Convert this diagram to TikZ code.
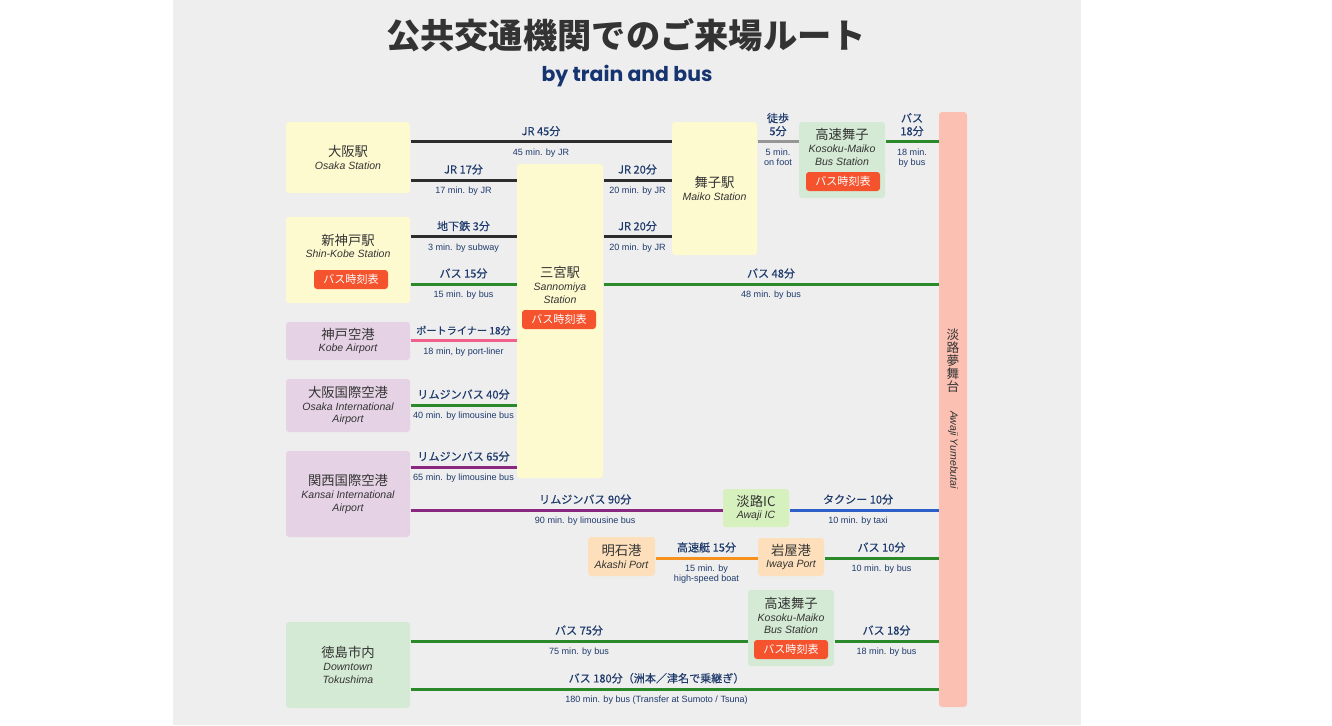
\documentclass[tikz,border=0pt]{standalone}
\usepackage{fontspec}
\setmainfont{Liberation Sans}
\newfontfamily\jp{Noto Sans CJK JP}
\newfontfamily\jpm[FakeBold=0.2]{Noto Sans CJK JP}
\newfontfamily\ttl{Poppins}

\definecolor{bggray}{RGB}{238,238,238}
\definecolor{boxyel}{RGB}{254,250,208}
\definecolor{boxlav}{RGB}{229,211,229}
\definecolor{boxgrn}{RGB}{212,234,212}
\definecolor{boxlime}{RGB}{214,241,190}
\definecolor{boxpch}{RGB}{253,224,187}
\definecolor{barpink}{RGB}{251,192,178}
\definecolor{btnred}{RGB}{245,83,45}
\definecolor{navy}{RGB}{30,58,108}
\definecolor{subnavy}{RGB}{22,52,112}
\definecolor{txtdark}{RGB}{51,51,51}
\definecolor{lnblack}{RGB}{45,45,45}
\definecolor{lngray}{RGB}{150,150,150}
\definecolor{lngreen}{RGB}{42,138,42}
\definecolor{lnpink}{RGB}{240,96,138}
\definecolor{lnpurple}{RGB}{138,40,128}
\definecolor{lnblue}{RGB}{45,95,200}
\definecolor{lnorange}{RGB}{246,145,30}

\newcommand{\nm}[1]{{\jp\fontsize{10}{10.5}\selectfont #1}}
\newcommand{\en}[1]{{\itshape\fontsize{7.9}{9.5}\selectfont #1}}

\tikzset{every picture/.style={line width=0.75pt}}
\tikzset{
  box/.style={rounded corners=2.25pt, inner sep=0pt, align=center, text=txtdark, font=\fontsize{7.9}{9.5}\selectfont},
  ybox/.style={box, fill=boxyel},
  lbox/.style={box, fill=boxlav},
  gbox/.style={box, fill=boxgrn},
  ibox/.style={box, fill=boxlime},
  pbox/.style={box, fill=boxpch},
  boxtxt/.style={inner sep=0pt, align=center, text=txtdark, font=\fontsize{7.9}{9.5}\selectfont},
  btn/.style={fill=btnred, text=white, rounded corners=2.25pt, minimum width=55.5pt, minimum height=14.25pt, inner sep=0pt, font=\jp\fontsize{8.3}{9}\selectfont},
  toplbl/.style={anchor=south, inner xsep=0pt, inner ysep=3pt, align=center, text=navy, font=\jpm\fontsize{8.3}{9.75}\selectfont},
  botlbl/.style={anchor=north, inner xsep=0pt, inner ysep=4pt, align=center, text=navy, font=\fontsize{6.8}{7.5}\selectfont},
  ln/.style={line width=2.25pt},
  jr/.style={ln, draw=lnblack},
  walk/.style={ln, draw=lngray},
  bus/.style={ln, draw=lngreen},
  portl/.style={ln, draw=lnpink},
  limo/.style={ln, draw=lnpurple},
  taxi/.style={ln, draw=lnblue},
  boat/.style={ln, draw=lnorange}
}

\begin{document}
\begin{tikzpicture}[x=0.75pt,y=0.75pt,yscale=-1,xscale=1]
\useasboundingbox (0,0) rectangle (1332,725);
\fill[bggray] (173,0) rectangle (1081,725);

% Title
\node[font=\jp\bfseries\fontsize{25.7}{28}\selectfont, text=txtdark] (title) at (626,35) {公共交通機関でのご来場ルート};
\node[font=\ttl\bfseries\fontsize{15.3}{17}\selectfont, text=subnavy] (subttl) at (627,76) {by train and bus};

% Stations
\node[ybox, minimum width=93pt, minimum height=53.25pt] (osaka) at (348,157.5) {\nm{大阪駅}\\\en{Osaka Station}};
\node[ybox, minimum width=93pt, minimum height=64.5pt] (shinkobe) at (348,260) {};
\node[boxtxt] (shinkobetxt) at (348,246) {\nm{新神戸駅}\\\en{Shin-Kobe Station}};
\node[btn] (shinkobebtn) at (351,279.5) {バス時刻表};
\node[ybox, minimum width=64.5pt, minimum height=235.5pt] (sannomiya) at (560,321) {};
\node[boxtxt] (sannomiyatxt) at (560,285) {\nm{三宮駅}\\\en{Sannomiya}\\\en{Station}};
\node[btn] (sannomiyabtn) at (559,319.5) {バス時刻表};
\node[ybox, minimum width=63.75pt, minimum height=99.75pt] (maiko) at (714.5,188.5) {\nm{舞子駅}\\\en{Maiko Station}};
\node[gbox, minimum width=64.5pt, minimum height=57pt] (kmaikoa) at (842,160) {};
\node[boxtxt] (kmaikoatxt) at (842,147) {\nm{高速舞子}\\\en{Kosoku-Maiko}\\\en{Bus Station}};
\node[btn] (kmaikoabtn) at (843,181.5) {バス時刻表};
\node[box, fill=barpink, minimum width=21pt, minimum height=446.25pt] (yume) at (953,409.5) {};
\node[inner sep=0pt, align=center, text=txtdark, font=\jp\fontsize{9.5}{9.75}\selectfont] (yumejp) at (953,360.5) {淡\\路\\夢\\舞\\台};
\node[inner sep=0pt, rotate=-90, text=txtdark, font=\itshape\fontsize{7.9}{9}\selectfont] (yumeen) at (953,450) {Awaji Yumebutai};

% Airports
\node[lbox, minimum width=93pt, minimum height=28.5pt] (kobeap) at (348,341) {\nm{神戸空港}\\\en{Kobe Airport}};
\node[lbox, minimum width=93pt, minimum height=39.75pt] (itami) at (348,405.5) {\nm{大阪国際空港}\\\en{Osaka International}\\\en{Airport}};
\node[lbox, minimum width=93pt, minimum height=64.5pt] (kansai) at (348,494) {\nm{関西国際空港}\\\en{Kansai International}\\\en{Airport}};

% Awaji side
\node[ibox, minimum width=49.5pt, minimum height=28.5pt] (awajiic) at (756,508) {\nm{淡路IC}\\\en{Awaji IC}};
\node[pbox, minimum width=50.25pt, minimum height=29.25pt] (akashi) at (621.5,556.5) {\nm{明石港}\\\en{Akashi Port}};
\node[pbox, minimum width=49.5pt, minimum height=28.5pt] (iwaya) at (791,557) {\nm{岩屋港}\\\en{Iwaya Port}};
\node[gbox, minimum width=64.5pt, minimum height=57pt] (kmaikob) at (791,628) {};
\node[boxtxt] (kmaikobtxt) at (791,615.5) {\nm{高速舞子}\\\en{Kosoku-Maiko}\\\en{Bus Station}};
\node[btn] (kmaikobbtn) at (791,649.5) {バス時刻表};
\node[gbox, minimum width=93pt, minimum height=64.5pt] (tokushima) at (348,665) {\nm{徳島市内}\\\en{Downtown}\\\en{Tokushima}};

% Routes
\draw[jr] (osaka.east |- 0,141.7) -- node[toplbl] (jr45) {JR 45分} node[botlbl] (jr45e) {45 min. by JR} (maiko.west |- 0,141.7);
\draw[jr] (osaka.east |- 0,180) -- node[toplbl] (jr17) {JR 17分} node[botlbl] (jr17e) {17 min. by JR} (sannomiya.west |- 0,180);
\draw[jr] (sannomiya.east |- 0,180) -- node[toplbl] (jr20a) {JR 20分} node[botlbl] (jr20ae) {20 min. by JR} (maiko.west |- 0,180);
\draw[jr] (shinkobe.east |- 0,236.7) -- node[toplbl] (sub3) {地下鉄 3分} node[botlbl] (sub3e) {3 min. by subway} (sannomiya.west |- 0,236.7);
\draw[jr] (sannomiya.east |- 0,236.7) -- node[toplbl] (jr20b) {JR 20分} node[botlbl] (jr20be) {20 min. by JR} (maiko.west |- 0,236.7);
\draw[walk] (maiko.east |- 0,141.7) -- node[toplbl] (walk5) {徒歩\\5分} node[botlbl] (walk5e) {5 min.\\on foot} (kmaikoa.west |- 0,141.7);
\draw[bus] (kmaikoa.east |- 0,141.7) -- node[toplbl] (bus18a) {バス\\18分} node[botlbl] (bus18ae) {18 min.\\by bus} (yume.west |- 0,141.7);
\draw[bus] (shinkobe.east |- 0,284) -- node[toplbl] (bus15) {バス 15分} node[botlbl] (bus15e) {15 min. by bus} (sannomiya.west |- 0,284);
\draw[bus] (sannomiya.east |- 0,284) -- node[toplbl] (bus48) {バス 48分} node[botlbl] (bus48e) {48 min. by bus} (yume.west |- 0,284);
\draw[portl] (kobeap.east |- 0,340.7) -- node[toplbl, font=\jpm\fontsize{7.6}{9}\selectfont] (port18) {ポートライナー 18分} node[botlbl] (port18e) {18 min, by port-liner} (sannomiya.west |- 0,340.7);
\draw[bus] (itami.east |- 0,405) -- node[toplbl] (limo40) {リムジンバス 40分} node[botlbl] (limo40e) {40 min. by limousine bus} (sannomiya.west |- 0,405);
\draw[limo] (kansai.east |- 0,467) -- node[toplbl] (limo65) {リムジンバス 65分} node[botlbl] (limo65e) {65 min. by limousine bus} (sannomiya.west |- 0,467);
\draw[limo] (kansai.east |- 0,510) -- node[toplbl, pos=0.56] (limo90) {リムジンバス 90分} node[botlbl, pos=0.56] (limo90e) {90 min. by limousine bus} (awajiic.west |- 0,510);
\draw[taxi] (awajiic.east |- 0,510) -- node[toplbl, pos=0.46] (taxi10) {タクシー 10分} node[botlbl, pos=0.46] (taxi10e) {10 min. by taxi} (yume.west |- 0,510);
\draw[boat] (akashi.east |- 0,558) -- node[toplbl] (boat15) {高速艇 15分} node[botlbl] (boat15e) {15 min. by\\high-speed boat} (iwaya.west |- 0,558);
\draw[bus] (iwaya.east |- 0,558) -- node[toplbl] (bus10) {バス 10分} node[botlbl] (bus10e) {10 min. by bus} (yume.west |- 0,558);
\draw[bus] (tokushima.east |- 0,641) -- node[toplbl] (bus75) {バス 75分} node[botlbl] (bus75e) {75 min. by bus} (kmaikob.west |- 0,641);
\draw[bus] (kmaikob.east |- 0,641) -- node[toplbl] (bus18b) {バス 18分} node[botlbl] (bus18be) {18 min. by bus} (yume.west |- 0,641);
\draw[bus] (tokushima.east |- 0,689) -- node[toplbl, pos=0.466] (bus180) {バス 180分（洲本／津名で乗継ぎ）} node[botlbl, pos=0.466] (bus180e) {180 min. by bus (Transfer at Sumoto / Tsuna)} (yume.west |- 0,689);

\end{tikzpicture}
\end{document}
